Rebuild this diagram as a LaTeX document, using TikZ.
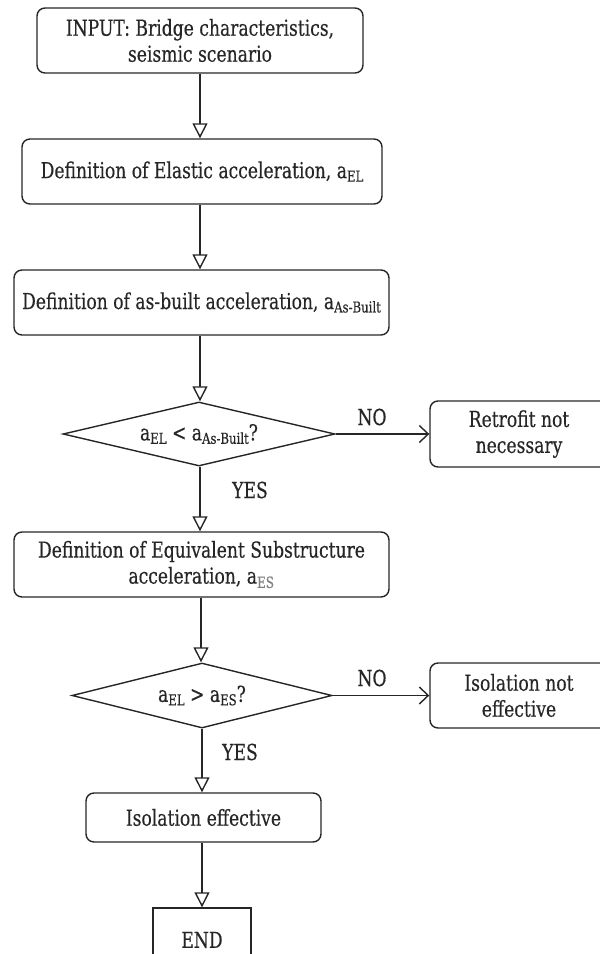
\documentclass[tikz,border=0pt]{standalone}
\usepackage{fontspec}
\setmainfont{DejaVu Serif}[FakeStretch=0.78, FakeBold=0.4]
\usetikzlibrary{shapes.geometric,arrows.meta}
\definecolor{ink}{HTML}{262626}
\newcommand{\subx}[1]{\raisebox{-0.3ex}{\fontsize{15}{15}\selectfont #1}}
\begin{document}
\begin{tikzpicture}[x=1pt,y=-1pt,
  every node/.style={font=\fontsize{22}{26}\selectfont, text=ink},
  procbox/.style={draw=ink, line width=1.4pt, rounded corners=8pt, align=center, inner sep=1pt},
  decbox/.style={draw=ink, line width=1.4pt, diamond, inner sep=0pt, aspect=4},
  endbox/.style={draw=ink, line width=1.4pt, align=center},
  lbl/.style={font=\fontsize{22}{26}\selectfont},
  flow/.style={draw=ink, line width=1.4pt, -{Triangle[open, length=15pt, width=15pt, line width=1.4pt]}},
  side/.style={draw=ink, line width=1.4pt, -{Straight Barb[length=9pt, width=17pt, line width=1.4pt]}}
]
\useasboundingbox (0,0) rectangle (600,954);
\node[procbox, minimum width=326pt, minimum height=65pt] (b1) at (200,40.5) {INPUT: Bridge characteristics,\\seismic scenario};
\node[procbox, minimum width=360pt, minimum height=65pt] (b2) at (202,171.5) {Definition of Elastic acceleration, a\subx{EL}};
\node[procbox, minimum width=375pt, minimum height=65pt] (b3) at (201.5,302.5) {Definition of as-built acceleration, a\subx{As-Built}};
\node[decbox, minimum width=272pt, minimum height=64pt] (d1) at (199,434) {a\subx{EL} < a\subx{As-Built}?};
\node[procbox, minimum width=178pt, minimum height=66pt] (r1) at (519,434) {Retrofit not\\necessary};
\node[procbox, minimum width=375pt, minimum height=65pt] (b4) at (201.5,564.5) {Definition of Equivalent Substructure\\acceleration, a\textsubscript{\color{gray}ES}};
\node[decbox, minimum width=260pt, minimum height=65pt] (d2) at (202,695.5) {a\subx{EL} > a\subx{ES}?};
\node[procbox, minimum width=178pt, minimum height=65pt] (r2) at (519,695.5) {Isolation not\\effective};
\node[procbox, minimum width=235pt, minimum height=49pt] (b5) at (203.5,817.5) {Isolation effective};
\node[endbox, minimum width=98pt, minimum height=64pt] (e) at (202,940) {END};
\node[lbl] (no1) at (372,417) {NO};
\node[lbl] (no2) at (372,678) {NO};
\node[lbl] (yes1) at (250,490) {YES};
\node[lbl] (yes2) at (240,752) {YES};
\draw[flow] (b1.south -| 200,0) -- (b2.north -| 200,0);
\draw[flow] (b2.south -| 200,0) -- (b3.north -| 200,0);
\draw[flow] (b3.south -| 200,0) -- (d1.north -| 200,0);
\draw[flow] (d1.south -| 200,0) -- (b4.north -| 200,0);
\draw[flow] (b4.south -| 201,0) -- (d2.north -| 201,0);
\draw[flow] (d2.south -| 202,0) -- (b5.north -| 202,0);
\draw[flow] (b5.south -| 202,0) -- (e.north -| 202,0);
\draw[side] (d1.east) -- (r1.west |- d1.east);
\draw[side] (d2.east) -- (r2.west |- d2.east);
\end{tikzpicture}
\end{document}
